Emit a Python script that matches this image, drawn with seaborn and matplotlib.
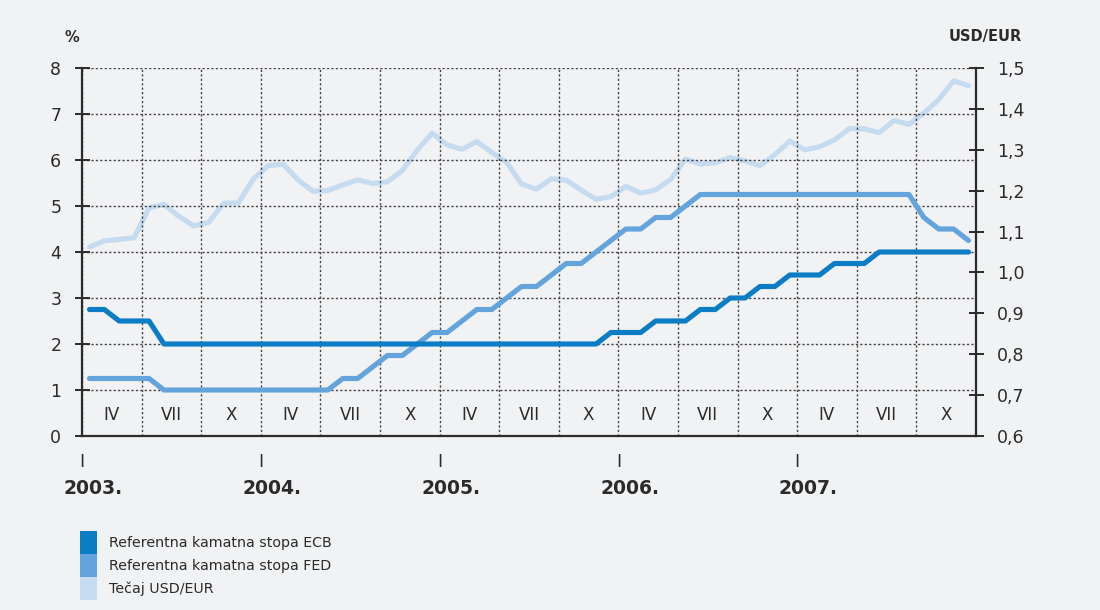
import numpy as np
import pandas as pd
import matplotlib.pyplot as plt
import matplotlib.transforms as mtransforms
from matplotlib.patches import Patch
from matplotlib.ticker import FixedLocator
import seaborn as sns

# monthly values, Jan 2003 - Dec 2007
ecb_rate = [
    2.75, 2.75, 2.5, 2.5, 2.5, 2.0, 2.0, 2.0, 2.0, 2.0, 2.0, 2.0,
    2.0, 2.0, 2.0, 2.0, 2.0, 2.0, 2.0, 2.0, 2.0, 2.0, 2.0, 2.0,
    2.0, 2.0, 2.0, 2.0, 2.0, 2.0, 2.0, 2.0, 2.0, 2.0, 2.0, 2.25,
    2.25, 2.25, 2.5, 2.5, 2.5, 2.75, 2.75, 3.0, 3.0, 3.25, 3.25, 3.5,
    3.5, 3.5, 3.75, 3.75, 3.75, 4.0, 4.0, 4.0, 4.0, 4.0, 4.0, 4.0,
]
fed_rate = [
    1.25, 1.25, 1.25, 1.25, 1.25, 1.0, 1.0, 1.0, 1.0, 1.0, 1.0, 1.0,
    1.0, 1.0, 1.0, 1.0, 1.0, 1.25, 1.25, 1.5, 1.75, 1.75, 2.0, 2.25,
    2.25, 2.5, 2.75, 2.75, 3.0, 3.25, 3.25, 3.5, 3.75, 3.75, 4.0, 4.25,
    4.5, 4.5, 4.75, 4.75, 5.0, 5.25, 5.25, 5.25, 5.25, 5.25, 5.25, 5.25,
    5.25, 5.25, 5.25, 5.25, 5.25, 5.25, 5.25, 5.25, 4.75, 4.5, 4.5, 4.25,
]
usd_eur = [
    1.0622, 1.0773, 1.0807, 1.0848, 1.1582, 1.1663, 1.1372, 1.1139, 1.1222, 1.1692, 1.1702, 1.2286,
    1.2613, 1.2646, 1.2262, 1.1985, 1.2007, 1.2138, 1.2266, 1.2176, 1.2218, 1.2490, 1.2991, 1.3408,
    1.3119, 1.3014, 1.3201, 1.2938, 1.2694, 1.2165, 1.2037, 1.2292, 1.2256, 1.2015, 1.1786, 1.1856,
    1.2103, 1.1938, 1.2020, 1.2271, 1.2770, 1.2650, 1.2684, 1.2811, 1.2727, 1.2611, 1.2881, 1.3213,
    1.2999, 1.3074, 1.3242, 1.3516, 1.3511, 1.3419, 1.3716, 1.3622, 1.3896, 1.4227, 1.4684, 1.4570,
]

years = ["2003.", "2004.", "2005.", "2006.", "2007."]
season_labels = ["IV", "VII", "X"]
rate_ticks = [0, 1, 2, 3, 4, 5, 6, 7, 8]
fx_ticks = [0.6, 0.7, 0.8, 0.9, 1.0, 1.1, 1.2, 1.3, 1.4, 1.5]
legend_labels = [
    "Referentna kamatna stopa ECB",
    "Referentna kamatna stopa FED",
    "Tečaj USD/EUR",
]

BG = "#f1f2f4"
INK = "#2b2b2b"
C_ECB = "#0b7dc4"
C_FED = "#62a4db"
C_FX = "#c5dbf0"

sns.set_style("white", {"axes.facecolor": BG, "figure.facecolor": BG})
plt.rcParams["font.family"] = ["DejaVu Sans"]
plt.rcParams["text.color"] = INK

df = pd.DataFrame({
    "month": np.arange(len(ecb_rate)) + 0.5,
    "ECB": ecb_rate,
    "FED": fed_rate,
    "FX": usd_eur,
})

fig = plt.figure(figsize=(11, 6.1), dpi=100)
ax = fig.add_axes([82 / 1100, 1 - 436 / 610, (976 - 82) / 1100, (436 - 68) / 610])
ax2 = ax.twinx()
ax2.set_zorder(ax.get_zorder() - 1)
ax.patch.set_visible(False)
fig.patch.set_facecolor(BG)

lw = 3.7
sns.lineplot(data=df, x="month", y="FX", ax=ax2, color=C_FX, lw=lw)
sns.lineplot(data=df, x="month", y="FED", ax=ax, color=C_FED, lw=lw)
sns.lineplot(data=df, x="month", y="ECB", ax=ax, color=C_ECB, lw=lw)

ax.set_xlim(0, 60)
ax.set_ylim(0, 8)
ax2.set_ylim(0.6, 1.5)
for a in (ax, ax2):
    a.set_xlabel("")
    a.set_ylabel("")

# left axis
ax.set_yticks(rate_ticks)
ax.set_yticklabels([str(v) for v in rate_ticks])
ax.tick_params(axis="y", direction="inout", length=10.8, width=1.4,
               pad=9.5, labelsize=12.5, color=INK, labelcolor=INK)

# right axis
ax2.set_yticks(fx_ticks)
ax2.set_yticklabels([f"{v:.1f}".replace(".", ",") for v in fx_ticks])
ax2.tick_params(axis="y", direction="inout", length=10.8, width=1.4,
                pad=9.5, labelsize=12.5, color=INK, labelcolor=INK)

# x axis: year starts + 4-month grid
year_pos = [12 * i for i in range(len(years))]
ax.xaxis.set_major_locator(FixedLocator(year_pos))
ax.set_xticklabels(["I"] * len(years))
ax.xaxis.set_minor_locator(FixedLocator(list(range(4, 60, 4))))
ax.tick_params(axis="x", which="major", direction="out", length=5, width=1.4,
               pad=7, labelsize=12.5, color=INK, labelcolor=INK)
ax.tick_params(axis="x", which="minor", direction="out", length=3, width=0.8,
               color="#555555")

dots = (0, (1.6, 1.6))
ax.grid(axis="y", which="major", ls=dots, lw=1, color="#444444")
ax.grid(axis="x", which="both", ls=dots, lw=1, color="#444444")
ax2.grid(False)

for name, sp in ax.spines.items():
    sp.set_visible(name in ("left", "bottom"))
    sp.set_color(INK)
    sp.set_linewidth(1.6)
for name, sp in ax2.spines.items():
    sp.set_visible(name == "right")
    sp.set_color(INK)
    sp.set_linewidth(1.6)

# quarter labels inside the plot
for i in range(len(years)):
    for m, lab in zip((2, 6, 10), season_labels):
        ax.text(12 * i + m, 0.45, lab, ha="center", va="center",
                fontsize=12, color=INK)

# year labels
trans = mtransforms.blended_transform_factory(ax.transData, ax.transAxes)
for pos, yr in zip(year_pos, years):
    ax.annotate(yr, xy=(pos, 0), xycoords=trans, xytext=(8, -37.5),
                textcoords="offset points", ha="center", va="center",
                fontsize=13.5, fontweight="bold", color=INK)

fig.text(72 / 1100, 1 - 38 / 610, "%", ha="center", va="center",
         fontsize=10.5, fontweight="bold")
fig.text(985 / 1100, 1 - 37 / 610, "USD/EUR", ha="center", va="center",
         fontsize=10.5, fontweight="bold")

# legend: touching swatches 17x23 px
fs = 10.3
fs_px = fs * 100 / 72
swatch_h = 23 / fs_px
handles = [Patch(facecolor=c, edgecolor="none", label=l)
           for c, l in zip([C_ECB, C_FED, C_FX], legend_labels)]
fig.legend(handles=handles, loc="upper left",
           bbox_to_anchor=(80 / 1100, 1 - 531 / 610), frameon=False,
           fontsize=fs, handlelength=17 / fs_px,
           handleheight=(swatch_h - 0.245) / 0.65,
           handletextpad=12 / fs_px, labelspacing=0, borderpad=0,
           borderaxespad=0)

fig.savefig("out.png", dpi=100, facecolor=BG)
